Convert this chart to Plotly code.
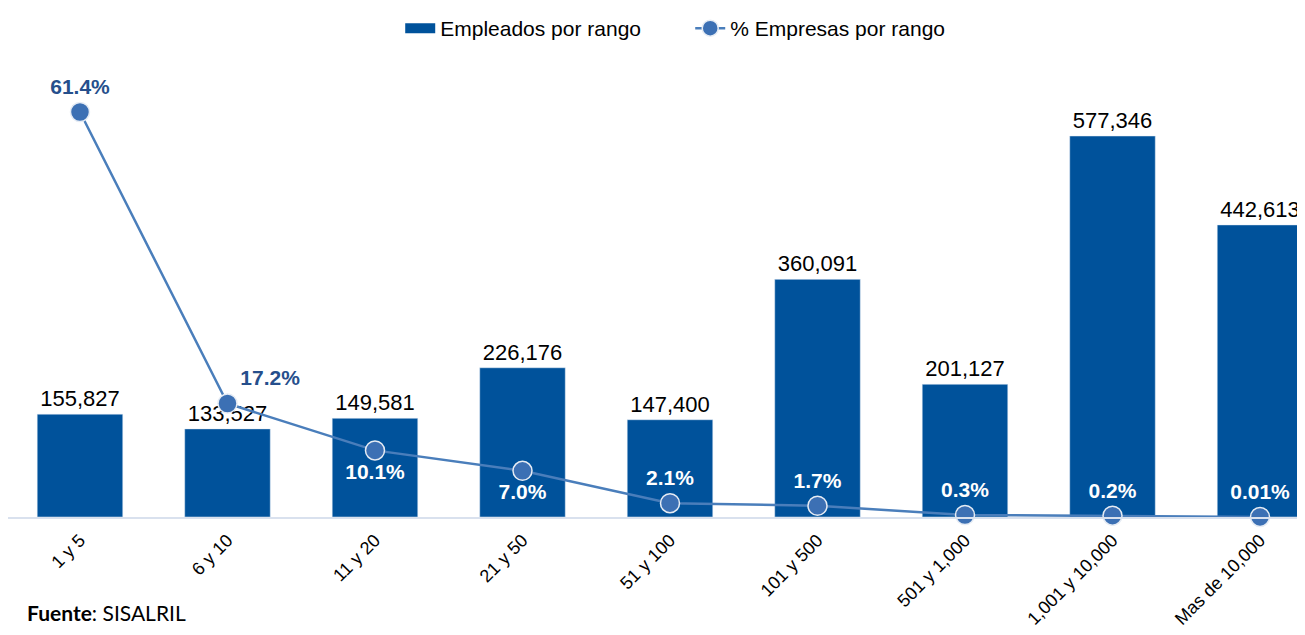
import plotly.graph_objects as go

categories = ["1 y 5", "6 y 10", "11 y 20", "21 y 50", "51 y 100", "101 y 500",
              "501 y 1,000", "1,001 y 10,000", "Mas de 10,000"]
empleados = [155827, 133527, 149581, 226176, 147400, 360091, 201127, 577346, 442613]
empresas_pct = [61.4, 17.2, 10.1, 7.0, 2.1, 1.7, 0.3, 0.2, 0.01]
pct_labels = ["61.4%", "17.2%", "10.1%", "7.0%", "2.1%", "1.7%", "0.3%", "0.2%", "0.01%"]

bar_color = "#00529B"
line_color = "#4A7EBB"
font_family = "Liberation Sans, Arial, sans-serif"

text_pos = ["top center", "top right", "bottom center", "bottom center", "top center",
            "top center", "top center", "top center", "top center"]
text_colors = ["#264F8C", "#264F8C", "white", "white", "white", "white", "white", "white", "white"]

fig = go.Figure()
fig.add_trace(go.Bar(
    x=categories, y=empleados, name="Empleados por rango", showlegend=False,
    legendgroup="emp",
    marker=dict(color=bar_color), width=0.58,
    text=[f"{v:,}" for v in empleados], textposition="outside",
    textfont=dict(size=22, color="black", family=font_family),
    cliponaxis=False,
))
# legend-only proxy so the legend key is a wide rectangle, as in the reference
fig.add_trace(go.Scatter(
    x=[None], y=[None], name="Empleados por rango", legendgroup="emp",
    mode="lines", line=dict(color=bar_color, width=10), hoverinfo="skip",
))
fig.add_trace(go.Scatter(
    x=categories, y=empresas_pct, name="% Empresas por rango", yaxis="y2",
    mode="lines+markers+text",
    line=dict(color=line_color, width=2.5),
    marker=dict(size=19, color="#3C70B4", line=dict(color="#E6ECF4", width=1.5)),
    text=pct_labels, textposition=text_pos,
    textfont=dict(size=21, color=text_colors, family=font_family, weight="bold"),
    cliponaxis=False,
))

fig.update_layout(
    width=1297, height=627,
    margin=dict(l=0, r=0, t=52, b=118),
    plot_bgcolor="white", paper_bgcolor="white",
    font=dict(family=font_family, color="black"),
    showlegend=True,
    legend=dict(orientation="h", x=0.526, xanchor="center", y=1.0, yref="container",
                yanchor="top", font=dict(size=21), traceorder="normal",
                itemwidth=30, entrywidth=245),
    bargap=0.42,
    xaxis=dict(range=[-0.488, 8.305], showline=True, linecolor="#D9E1EE", linewidth=1.5,
               tickangle=-45, tickfont=dict(size=18), ticks="", showgrid=False,
               automargin=False, ticklabelstandoff=4),
    yaxis=dict(range=[0, 692514], visible=False, showgrid=False),
    yaxis2=dict(range=[0, 69.29], overlaying="y", side="right", visible=False,
                showgrid=False),
    annotations=[dict(
        text="<b>Fuente</b>: SISALRIL", xref="paper", yref="paper",
        x=0.013, y=-0.208, xanchor="left", yanchor="middle", showarrow=False,
        font=dict(size=21, family="Lato, Open Sans, sans-serif", color="black"),
    )],
)

fig.write_html("out.html")
